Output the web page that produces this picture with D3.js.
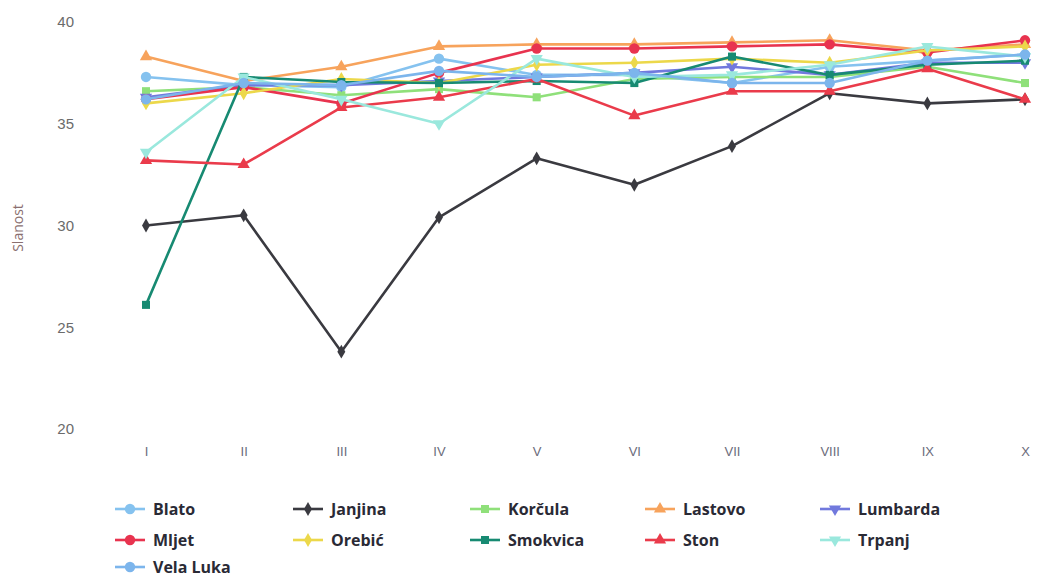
<!DOCTYPE html>
<html><head><meta charset="utf-8">
<script src="https://cdn.jsdelivr.net/npm/d3@7"></script>
<style>
html,body{margin:0;padding:0;background:#fff;}
svg{display:block;font-family:"Open Sans","Noto Sans",sans-serif;}
</style></head>
<body><svg id="c" width="1052" height="580"></svg>
<script>
const categories = ["I","II","III","IV","V","VI","VII","VIII","IX","X"];
const yTicks = [20,25,30,35,40];
const seriesNames = ["Blato","Janjina","Korčula","Lastovo","Lumbarda","Mljet","Orebić","Smokvica","Ston","Trpanj","Vela Luka"];
const blato    = [37.3,36.9,36.8,38.2,37.4,37.4,37.0,37.8,38.1,38.4];
const janjina  = [30.0,30.5,23.8,30.4,33.3,32.0,33.9,36.5,36.0,36.2];
const korcula  = [36.6,36.8,36.4,36.7,36.3,37.2,37.3,37.3,37.8,37.0];
const lastovo  = [38.3,37.1,37.8,38.8,38.9,38.9,39.0,39.1,38.6,38.9];
const lumbarda = [36.3,36.9,36.9,37.1,37.3,37.5,37.8,37.4,38.0,38.0];
const mljet    = [36.2,36.8,36.0,37.5,38.7,38.7,38.8,38.9,38.5,39.1];
const orebic   = [36.0,36.5,37.2,37.0,37.9,38.0,38.2,38.0,38.6,38.8];
const smokvica = [26.1,37.3,37.05,37.0,37.1,37.0,38.3,37.4,37.9,38.1];
const ston     = [33.2,33.0,35.8,36.3,37.2,35.4,36.6,36.6,37.7,36.2];
const trpanj   = [33.6,37.3,36.2,35.0,38.2,37.3,37.4,37.9,38.8,38.3];
const velaLuka = [36.2,37.0,36.9,37.6,37.3,37.5,37.0,37.0,38.1,38.4];
const seriesValues = [blato,janjina,korcula,lastovo,lumbarda,mljet,orebic,smokvica,ston,trpanj,velaLuka];

const colors = ["#85c2ef","#3a3a40","#8fe07a","#f7a35c","#7179dd","#e8334f","#ecd84a","#178a72","#ea3b4b","#9ae8dd","#7cb5ec"];
const symbols = [d3.symbolCircle,d3.symbolDiamond,d3.symbolSquare,d3.symbolTriangle,"tdown",d3.symbolCircle,d3.symbolDiamond,d3.symbolSquare,d3.symbolTriangle,"tdown",d3.symbolCircle];

const svg = d3.select("#c");
const x = d3.scalePoint().domain(categories).range([146,1025]);
const y = d3.scaleLinear().domain([20,40]).range([429,22]);

// y axis
const yAx = svg.append("g").attr("transform","translate(74,0)")
  .call(d3.axisLeft(y).tickValues(yTicks).tickSize(0).tickPadding(0));
yAx.select(".domain").remove();
yAx.selectAll("text").attr("fill","#6b6b6b").style("font-size","15px");

svg.append("text").attr("transform","translate(23,228) rotate(-90)")
  .attr("text-anchor","middle").attr("fill","#8a6f6f").style("font-size","14px").text("Slanost");

// x axis
const xAx = svg.append("g").attr("transform","translate(0,447)")
  .call(d3.axisBottom(x).tickSize(0).tickPadding(0));
xAx.select(".domain").remove();
xAx.selectAll("text").attr("fill","#6b6b7a").style("font-size","13px").attr("dy","0.7em");

function sym(s, size){
  if (s === "tdown") return d3.symbol().type(d3.symbolTriangle).size(size)();
  return d3.symbol().type(s).size(size)();
}
function symSize(s){ return s===d3.symbolCircle ? 85 : (s===d3.symbolDiamond ? 55 : 65); }
const line = d3.line().x((d,i)=>x(categories[i])).y(d=>y(d));

seriesValues.forEach((vals,k)=>{
  const g = svg.append("g");
  g.append("path").attr("d",line(vals)).attr("fill","none")
    .attr("stroke",colors[k]).attr("stroke-width",2.6).attr("stroke-linejoin","round");
  g.selectAll("path.m").data(vals).enter().append("path").attr("class","m")
    .attr("d",sym(symbols[k], symSize(symbols[k])))
    .attr("transform",(d,i)=>`translate(${x(categories[i])},${y(d)})`+(symbols[k]==="tdown"?" rotate(180)":""))
    .attr("fill",colors[k]);
});

// legend
const colX = [115,293,470,645,820];
const rowY = [509,540,567];
seriesNames.forEach((n,k)=>{
  const cx = colX[k%5], cy = rowY[Math.floor(k/5)];
  const g = svg.append("g").attr("transform",`translate(${cx},${cy})`);
  g.append("line").attr("x1",0).attr("x2",30).attr("y1",0).attr("y2",0)
    .attr("stroke",colors[k]).attr("stroke-width",2.6);
  g.append("path").attr("d",sym(symbols[k], symSize(symbols[k])))
    .attr("transform","translate(15,0)"+(symbols[k]==="tdown"?" rotate(180)":"")).attr("fill",colors[k]);
  g.append("text").attr("x",38).attr("y",0).attr("dy","0.35em")
    .attr("fill","#2a2a35").style("font-size","16px").style("font-weight","bold").text(n);
});
</script>
</body></html>
